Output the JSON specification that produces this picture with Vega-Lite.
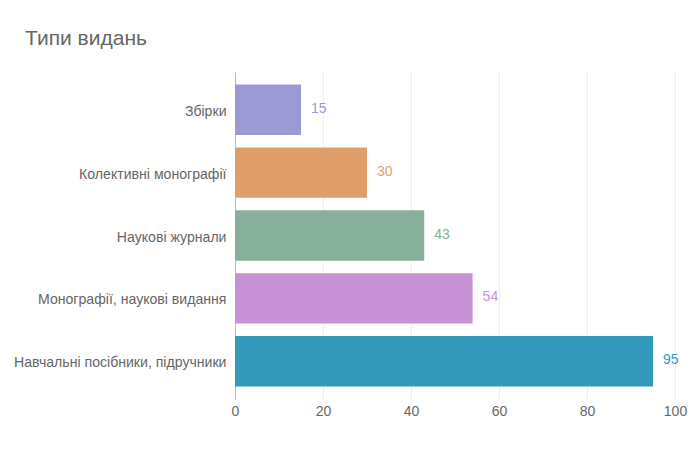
{
  "$schema": "https://vega.github.io/schema/vega-lite/v6.json",
  "autosize": "none",
  "padding": {"left": 235, "top": 72, "right": 25, "bottom": 51},
  "width": 440,
  "height": 327,
  "title": {
    "text": "Типи видань",
    "anchor": "start",
    "frame": "group",
    "dx": -210,
    "dy": 18,
    "baseline": "alphabetic",
    "offset": 24,
    "fontSize": 21,
    "fontWeight": "normal",
    "font": "Liberation Sans",
    "color": "#666666"
  },
  "config": {
    "view": {"stroke": null},
    "font": "Liberation Sans"
  },
  "data": {
    "values": [
      {"type": "Збірки", "count": 15},
      {"type": "Колективні монографії", "count": 30},
      {"type": "Наукові журнали", "count": 43},
      {"type": "Монографії, наукові видання", "count": 54},
      {"type": "Навчальні посібники, підручники", "count": 95}
    ]
  },
  "encoding": {
    "y": {
      "field": "type",
      "type": "nominal",
      "sort": null,
      "title": null,
      "scale": {"paddingInner": 0.2, "paddingOuter": 0.2},
      "axis": {
        "ticks": false,
        "labelPadding": 9,
        "labelFontSize": 14.1,
        "labelLimit": 300,
        "labelOffset": 2,
        "labelColor": "#666666",
        "domainColor": "#bbbbbb",
        "grid": false
      }
    },
    "x": {
      "field": "count",
      "type": "quantitative",
      "title": null,
      "scale": {"domain": [0, 100]},
      "axis": {
        "values": [0, 20, 40, 60, 80, 100],
        "ticks": false,
        "domain": false,
        "labelPadding": 5,
        "labelFontSize": 14,
        "labelColor": "#666666",
        "gridColor": "#eeeeee",
        "labelFlush": false
      }
    },
    "color": {
      "field": "type",
      "type": "nominal",
      "sort": null,
      "legend": null,
      "scale": {
        "domain": ["Збірки", "Колективні монографії", "Наукові журнали", "Монографії, наукові видання", "Навчальні посібники, підручники"],
        "range": ["#9c9ad4", "#e09e6a", "#86b09b", "#c793d6", "#3399bb"]
      }
    }
  },
  "layer": [
    {"mark": {"type": "bar"}},
    {
      "mark": {"type": "text", "align": "left", "dx": 10, "dy": -1, "fontSize": 14, "baseline": "middle"},
      "encoding": {"text": {"field": "count", "type": "quantitative"}}
    }
  ]
}
